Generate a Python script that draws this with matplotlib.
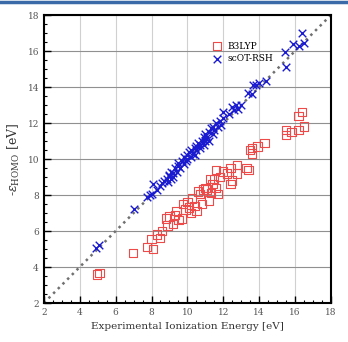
import matplotlib
matplotlib.use('Agg')
import matplotlib.pyplot as plt
from matplotlib.ticker import MultipleLocator
from matplotlib.lines import Line2D

plt.rcParams['font.family'] = 'DejaVu Serif'
plt.rcParams['mathtext.fontset'] = 'dejavuserif'

# scOT-RSH: experimental IE vs -eps_HOMO
rsh_x = [4.9, 5.1, 7.0, 7.75, 7.9, 8.0, 8.1, 8.3, 8.45, 8.6, 8.7, 8.85, 8.9, 9.0, 9.1, 9.2,
         9.0, 9.1, 9.2, 9.3, 9.4, 9.5, 9.5, 9.6, 9.7, 9.8, 9.8, 9.9, 10.0, 10.0, 10.1, 10.2,
         10.2, 10.3, 10.4, 10.4, 10.5, 10.5, 10.6, 10.7, 10.7, 10.8, 10.9, 10.9, 11.0, 11.0,
         11.1, 11.2, 11.2, 11.3, 11.4, 11.4, 11.5, 11.6, 11.7, 11.8, 11.9, 12.0, 12.0, 12.3,
         12.5, 12.6, 12.7, 12.8, 13.0, 13.4, 13.6, 13.65, 13.8, 14.0, 14.37,
         15.43, 15.5, 15.9, 16.2, 16.38, 16.5]
rsh_y = [5.05, 5.2, 7.25, 7.9, 8.0, 8.05, 8.6, 8.3, 8.5, 8.65, 8.8, 8.9, 8.7, 9.05, 8.9, 9.2,
         9.1, 9.3, 9.0, 9.5, 9.3, 9.6, 9.8, 9.5, 9.9, 9.7, 10.1, 9.9, 10.2, 10.0, 10.4, 10.1,
         10.5, 10.3, 10.6, 10.2, 10.7, 10.5, 10.9, 10.6, 10.8, 11.0, 10.8, 11.2, 11.0, 11.4,
         11.2, 11.5, 11.0, 11.7, 11.4, 11.8, 11.6, 12.0, 11.8, 12.1, 11.9, 12.3, 12.6, 12.5,
         12.9, 12.7, 13.0, 12.8, 13.0, 13.67, 13.6, 14.1, 14.1, 14.2, 14.33,
         15.94, 15.1, 16.4, 16.3, 17.0, 16.45]

# B3LYP
b3_x = [4.95, 5.1, 6.96, 7.74, 8.1, 8.0, 8.3, 8.47, 8.6, 8.8, 8.9, 9.0, 9.2, 9.3, 9.4, 9.5,
        9.7, 9.75, 9.9, 10.0, 10.1, 10.2, 10.25, 10.4, 10.5, 10.6, 10.7, 10.8, 10.9, 11.0,
        11.1, 11.25, 11.2, 11.3, 11.4, 11.5, 11.6, 11.6, 11.7, 11.8, 12.0, 12.2, 12.4, 12.4,
        12.5, 12.75, 12.75, 13.3, 13.4, 13.5, 13.6, 13.6, 13.9, 14.3,
        15.5, 15.5, 15.8, 16.2, 16.2, 16.38, 16.5]
b3_y = [3.58, 3.67, 4.78, 5.1, 5.0, 5.56, 5.8, 5.6, 6.0, 6.7, 6.3, 6.8, 6.4, 6.9, 7.1, 6.6,
        6.7, 7.5, 7.2, 7.6, 7.3, 7.0, 7.8, 7.4, 7.1, 8.2, 8.05, 7.5, 8.3, 8.4,
        8.3, 8.9, 7.7, 8.1, 8.6, 8.9, 8.4, 9.4, 8.05, 9.0, 9.3, 9.2, 8.6, 9.5,
        8.8, 9.2, 9.67, 9.5, 9.4, 10.5, 10.3, 10.6, 10.7, 10.9,
        11.6, 11.33, 11.5, 11.6, 12.4, 12.6, 11.8]

fig = plt.figure(figsize=(3.48, 3.42), dpi=100)
ax = fig.add_axes([0.126, 0.114, 0.825, 0.842])

# blue page rule at the top
fig.add_artist(Line2D([0, 1], [0.993, 0.993], color='#3a6aa8', lw=2.5))

ax.grid(True, axis='x', color='#d0d0d0', lw=0.8)
ax.grid(True, axis='y', color='#909090', lw=0.8)
ax.set_axisbelow(True)

ax.plot([2, 18], [2, 18], ':', color='#707070', lw=1.8, zorder=1)

ax.scatter(b3_x, b3_y, marker='s', s=36, facecolors='none', edgecolors='#ee4a4a',
           linewidths=0.8, label='B3LYP', zorder=3)
ax.scatter(rsh_x, rsh_y, marker='x', s=30, color='#1a1ad0', linewidths=1.0,
           label='scOT-RSH', zorder=4)

ax.set_xlim(2, 18)
ax.set_ylim(2, 18)
ax.xaxis.set_major_locator(MultipleLocator(2))
ax.yaxis.set_major_locator(MultipleLocator(2))
ax.xaxis.set_minor_locator(MultipleLocator(0.5))
ax.yaxis.set_minor_locator(MultipleLocator(0.5))
ax.tick_params(which='both', direction='in', labelsize=6.5, labelcolor='#555555')
ax.tick_params(which='major', length=5, width=1)
ax.tick_params(which='minor', length=2.5, width=0.8)
for sp in ax.spines.values():
    sp.set_linewidth(1.5)

ax.set_xlabel('Experimental Ionization Energy [eV]', fontsize=7.5, color='#333333')
ax.set_ylabel(r'-$\varepsilon_{\mathrm{HOMO}}$ [eV]', fontsize=9, color='#333333')

ax.legend(loc='upper left', bbox_to_anchor=(0.55, 0.93), frameon=False, fontsize=6.5,
          handletextpad=0.2, borderpad=0.2, labelspacing=0.4)

fig.savefig('out.png', dpi=100)
